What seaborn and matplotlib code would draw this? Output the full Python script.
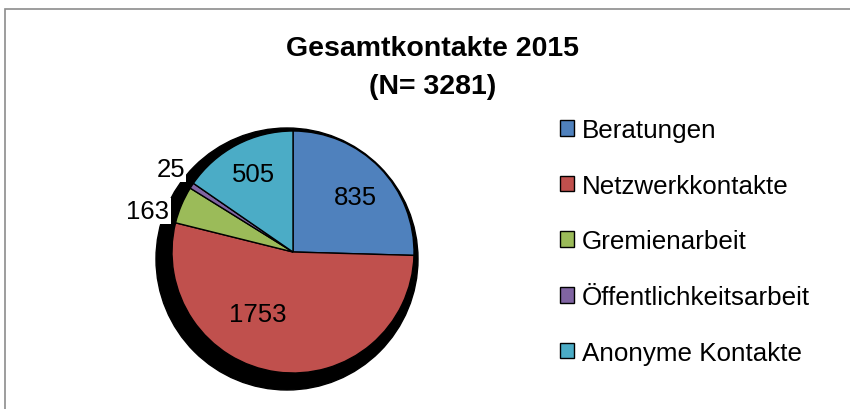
import matplotlib
matplotlib.use("Agg")
import matplotlib.pyplot as plt
from matplotlib.patches import Patch, Circle, Rectangle
import seaborn as sns

categories = ["Beratungen", "Netzwerkkontakte", "Gremienarbeit",
              "Öffentlichkeitsarbeit", "Anonyme Kontakte"]
values = [835, 1753, 163, 25, 505]
colors = ["#4F81BD", "#C0504D", "#9BBB59", "#8064A2", "#4BACC6"]
title = "Gesamtkontakte 2015\n(N= 3281)"

# label layout (data coords, pie radius = 1)
label_pos = [(0.52, 0.455), (-0.29, -0.51), (-1.20, 0.34), (-1.01, 0.69), (-0.33, 0.645)]
label_box = [False, False, True, True, False]

sns.set_style("white")
plt.rcParams['font.family'] = ['Liberation Sans', 'DejaVu Sans']
plt.rcParams['text.color'] = 'black'
palette = sns.color_palette(colors)

W, H = 850, 410
fig = plt.figure(figsize=(W / 100, H / 100), dpi=100)

# outer chart frame
fig.patches.append(Rectangle((5 / W, -0.05), 1.0, (H - 10) / H + 0.05,
                             transform=fig.transFigure, fill=False,
                             edgecolor="#8c8c8c", linewidth=1.2))

cx, cy, r = 293, 253, 121
ax = fig.add_axes([(cx - r) / W, (H - cy - r) / H, 2 * r / W, 2 * r / H])
ax.set_xlim(-1, 1)
ax.set_ylim(-1, 1)
ax.set_aspect("equal")
ax.axis("off")

# shadow
ax.add_patch(Circle((-6 / r, -7 / r), 131 / r, color="black", zorder=0, clip_on=False))

wedges, _ = ax.pie(values, colors=palette, startangle=90, counterclock=False,
                   radius=1, wedgeprops=dict(edgecolor="black", linewidth=1.0),
                   frame=False)
for w in wedges:
    w.set_zorder(2)
ax.set_xlim(-1, 1)
ax.set_ylim(-1, 1)

for v, (x, y), box in zip(values, label_pos, label_box):
    kw = {}
    if box:
        kw["bbox"] = dict(facecolor="white", edgecolor="none", pad=1)
    ax.text(x, y, str(v), ha="center", va="center", fontsize=18.5, zorder=5,
            clip_on=False, **kw)

fig.text(0.509, 0.834, title, ha="center", va="center", fontsize=20.5,
         fontweight="bold", linespacing=1.62)

handles = [Patch(facecolor=c, edgecolor="black", linewidth=1.0) for c in palette]
fig.legend(handles, categories, loc="upper left", bbox_to_anchor=(560 / W, 1 - 119 / H),
           frameon=False, fontsize=18.7, handlelength=0.55, handleheight=0.55,
           handletextpad=0.3, labelspacing=1.22, borderpad=0, borderaxespad=0)

fig.savefig("out.png", dpi=100)
